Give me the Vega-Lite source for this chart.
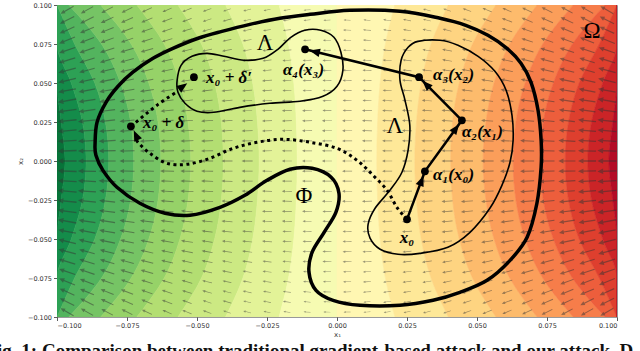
{
"$schema":"https://vega.github.io/schema/vega-lite/v6.json",
"width":560,"height":312,
"autosize":{"type":"none"},
"padding":{"left":57,"top":5,"right":23,"bottom":34},
"background":"white",
"config":{"view":{"stroke":"#999","strokeWidth":1},
"axis":{"labelFont":"DejaVu Sans","labelFontSize":6.5,"labelColor":"#333","tickColor":"#333","tickSize":3.5,"tickWidth":0.8,"domain":false,"grid":false,"titleFont":"DejaVu Sans","titleFontSize":7,"titleFontWeight":"normal","titleColor":"#333","labelPadding":2}},
"title":{"text":"Fig. 1: Comparison between traditional gradient-based attack and our attack. D","orient":"bottom","anchor":"start","font":"Liberation Serif","fontSize":19,"fontWeight":"bold","color":"#111","dx":-31,"offset":5},
"datasets":{
"bands":[
{"k":0,"y":[0.1,0.075,0.05,0.025,0,-0.025,-0.05,-0.075,-0.1],"x":[-0.1,-0.1,-0.1,-0.1,-0.1,-0.1,-0.1,-0.1,-0.1],"x2":[-0.1,-0.1,-0.1,-0.0985,-0.0971,-0.0985,-0.1,-0.1,-0.1]},
{"k":1,"y":[0.1,0.075,0.05,0.025,0,-0.025,-0.05,-0.075,-0.1],"x":[-0.1,-0.1,-0.1,-0.0985,-0.0971,-0.0985,-0.1,-0.1,-0.1],"x2":[-0.1,-0.1,-0.0949,-0.0909,-0.0896,-0.0909,-0.0949,-0.1,-0.1]},
{"k":2,"y":[0.1,0.075,0.05,0.025,0,-0.025,-0.05,-0.075,-0.1],"x":[-0.1,-0.1,-0.0949,-0.0909,-0.0896,-0.0909,-0.0949,-0.1,-0.1],"x2":[-0.1,-0.0937,-0.0865,-0.0827,-0.0815,-0.0827,-0.0865,-0.0937,-0.1]},
{"k":3,"y":[0.1,0.075,0.05,0.025,0,-0.025,-0.05,-0.075,-0.1],"x":[-0.1,-0.0937,-0.0865,-0.0827,-0.0815,-0.0827,-0.0865,-0.0937,-0.1],"x2":[-0.0958,-0.0841,-0.0773,-0.0737,-0.0726,-0.0737,-0.0773,-0.0841,-0.0958]},
{"k":4,"y":[0.1,0.075,0.05,0.025,0,-0.025,-0.05,-0.075,-0.1],"x":[-0.0958,-0.0841,-0.0773,-0.0737,-0.0726,-0.0737,-0.0773,-0.0841,-0.0958],"x2":[-0.0844,-0.0735,-0.0672,-0.0639,-0.0629,-0.0639,-0.0672,-0.0735,-0.0844]},
{"k":5,"y":[0.1,0.075,0.05,0.025,0,-0.025,-0.05,-0.075,-0.1],"x":[-0.0844,-0.0735,-0.0672,-0.0639,-0.0629,-0.0639,-0.0672,-0.0735,-0.0844],"x2":[-0.0715,-0.0617,-0.0561,-0.0532,-0.0522,-0.0532,-0.0561,-0.0617,-0.0715]},
{"k":6,"y":[0.1,0.075,0.05,0.025,0,-0.025,-0.05,-0.075,-0.1],"x":[-0.0715,-0.0617,-0.0561,-0.0532,-0.0522,-0.0532,-0.0561,-0.0617,-0.0715],"x2":[-0.0568,-0.0484,-0.0437,-0.0413,-0.0406,-0.0413,-0.0437,-0.0484,-0.0568]},
{"k":7,"y":[0.1,0.075,0.05,0.025,0,-0.025,-0.05,-0.075,-0.1],"x":[-0.0568,-0.0484,-0.0437,-0.0413,-0.0406,-0.0413,-0.0437,-0.0484,-0.0568],"x2":[-0.0398,-0.0336,-0.0301,-0.0284,-0.0278,-0.0284,-0.0301,-0.0336,-0.0398]},
{"k":8,"y":[0.1,0.075,0.05,0.025,0,-0.025,-0.05,-0.075,-0.1],"x":[-0.0398,-0.0336,-0.0301,-0.0284,-0.0278,-0.0284,-0.0301,-0.0336,-0.0398],"x2":[-0.0207,-0.0173,-0.0154,-0.0145,-0.0142,-0.0145,-0.0154,-0.0173,-0.0207]},
{"k":9,"y":[0.1,0.075,0.05,0.025,0,-0.025,-0.05,-0.075,-0.1],"x":[-0.0207,-0.0173,-0.0154,-0.0145,-0.0142,-0.0145,-0.0154,-0.0173,-0.0207],"x2":[0,0,0,0,0,0,0,0,0]},
{"k":10,"y":[0.1,0.075,0.05,0.025,0,-0.025,-0.05,-0.075,-0.1],"x":[0,0,0,0,0,0,0,0,0],"x2":[0.0207,0.0173,0.0154,0.0145,0.0142,0.0145,0.0154,0.0173,0.0207]},
{"k":11,"y":[0.1,0.075,0.05,0.025,0,-0.025,-0.05,-0.075,-0.1],"x":[0.0207,0.0173,0.0154,0.0145,0.0142,0.0145,0.0154,0.0173,0.0207],"x2":[0.0398,0.0336,0.0301,0.0284,0.0278,0.0284,0.0301,0.0336,0.0398]},
{"k":12,"y":[0.1,0.075,0.05,0.025,0,-0.025,-0.05,-0.075,-0.1],"x":[0.0398,0.0336,0.0301,0.0284,0.0278,0.0284,0.0301,0.0336,0.0398],"x2":[0.0568,0.0484,0.0437,0.0413,0.0406,0.0413,0.0437,0.0484,0.0568]},
{"k":13,"y":[0.1,0.075,0.05,0.025,0,-0.025,-0.05,-0.075,-0.1],"x":[0.0568,0.0484,0.0437,0.0413,0.0406,0.0413,0.0437,0.0484,0.0568],"x2":[0.0715,0.0617,0.0561,0.0532,0.0522,0.0532,0.0561,0.0617,0.0715]},
{"k":14,"y":[0.1,0.075,0.05,0.025,0,-0.025,-0.05,-0.075,-0.1],"x":[0.0715,0.0617,0.0561,0.0532,0.0522,0.0532,0.0561,0.0617,0.0715],"x2":[0.0844,0.0735,0.0672,0.0639,0.0629,0.0639,0.0672,0.0735,0.0844]},
{"k":15,"y":[0.1,0.075,0.05,0.025,0,-0.025,-0.05,-0.075,-0.1],"x":[0.0844,0.0735,0.0672,0.0639,0.0629,0.0639,0.0672,0.0735,0.0844],"x2":[0.0958,0.0841,0.0773,0.0737,0.0726,0.0737,0.0773,0.0841,0.0958]},
{"k":16,"y":[0.1,0.075,0.05,0.025,0,-0.025,-0.05,-0.075,-0.1],"x":[0.0958,0.0841,0.0773,0.0737,0.0726,0.0737,0.0773,0.0841,0.0958],"x2":[0.1,0.0937,0.0865,0.0827,0.0815,0.0827,0.0865,0.0937,0.1]},
{"k":17,"y":[0.1,0.075,0.05,0.025,0,-0.025,-0.05,-0.075,-0.1],"x":[0.1,0.0937,0.0865,0.0827,0.0815,0.0827,0.0865,0.0937,0.1],"x2":[0.1,0.1,0.0949,0.0909,0.0896,0.0909,0.0949,0.1,0.1]},
{"k":18,"y":[0.1,0.075,0.05,0.025,0,-0.025,-0.05,-0.075,-0.1],"x":[0.1,0.1,0.0949,0.0909,0.0896,0.0909,0.0949,0.1,0.1],"x2":[0.1,0.1,0.1,0.0985,0.0971,0.0985,0.1,0.1,0.1]},
{"k":19,"y":[0.1,0.075,0.05,0.025,0,-0.025,-0.05,-0.075,-0.1],"x":[0.1,0.1,0.1,0.0985,0.0971,0.0985,0.1,0.1,0.1],"x2":[0.1,0.1,0.1,0.1,0.1,0.1,0.1,0.1,0.1]}
],
"quiver":[
{"y":0.0968,"x":[-0.0964,-0.0893,-0.0821,-0.075,-0.0679,-0.0607,-0.0536,-0.0464,-0.0393,-0.0321,-0.025,-0.0179,-0.0107,-0.0036,0.0036,0.0107,0.0179,0.025,0.0321,0.0393,0.0464,0.0536,0.0607,0.0679,0.075,0.0821,0.0893,0.0964],"a":[-30,-29,-28,-27,-25,-24,-22,-20,-18,-15,-12,-9,-5,-2,2,5,9,12,15,18,20,22,24,25,27,28,29,30],"m":[15,14,13,12,11,10,10,9,8,8,7,7,7,7,7,7,7,7,8,8,9,10,10,11,12,13,14,15]},
{"y":0.0903,"x":[-0.0964,-0.0893,-0.0821,-0.075,-0.0679,-0.0607,-0.0536,-0.0464,-0.0393,-0.0321,-0.025,-0.0179,-0.0107,-0.0036,0.0036,0.0107,0.0179,0.025,0.0321,0.0393,0.0464,0.0536,0.0607,0.0679,0.075,0.0821,0.0893,0.0964],"a":[-27,-26,-25,-24,-23,-21,-20,-18,-16,-13,-11,-8,-5,-2,2,5,8,11,13,16,18,20,21,23,24,25,26,27],"m":[16,15,14,13,12,11,10,9,9,8,8,8,7,7,7,7,8,8,8,9,9,10,11,12,13,14,15,16]},
{"y":0.0839,"x":[-0.0964,-0.0893,-0.0821,-0.075,-0.0679,-0.0607,-0.0536,-0.0464,-0.0393,-0.0321,-0.025,-0.0179,-0.0107,-0.0036,0.0036,0.0107,0.0179,0.025,0.0321,0.0393,0.0464,0.0536,0.0607,0.0679,0.075,0.0821,0.0893,0.0964],"a":[-24,-23,-22,-21,-20,-19,-17,-16,-14,-12,-9,-7,-4,-1,1,4,7,9,12,14,16,17,19,20,21,22,23,24],"m":[16,15,14,13,12,11,10,10,9,9,8,8,8,8,8,8,8,8,9,9,10,10,11,12,13,14,15,16]},
{"y":0.0774,"x":[-0.0964,-0.0893,-0.0821,-0.075,-0.0679,-0.0607,-0.0536,-0.0464,-0.0393,-0.0321,-0.025,-0.0179,-0.0107,-0.0036,0.0036,0.0107,0.0179,0.025,0.0321,0.0393,0.0464,0.0536,0.0607,0.0679,0.075,0.0821,0.0893,0.0964],"a":[-22,-21,-20,-19,-18,-17,-16,-14,-12,-10,-8,-6,-4,-1,1,4,6,8,10,12,14,16,17,18,19,20,21,22],"m":[17,15,14,13,12,11,11,10,9,9,9,8,8,8,8,8,8,9,9,9,10,11,11,12,13,14,15,17]},
{"y":0.071,"x":[-0.0964,-0.0893,-0.0821,-0.075,-0.0679,-0.0607,-0.0536,-0.0464,-0.0393,-0.0321,-0.025,-0.0179,-0.0107,-0.0036,0.0036,0.0107,0.0179,0.025,0.0321,0.0393,0.0464,0.0536,0.0607,0.0679,0.075,0.0821,0.0893,0.0964],"a":[-19,-19,-18,-17,-16,-15,-14,-12,-11,-9,-7,-5,-3,-1,1,3,5,7,9,11,12,14,15,16,17,18,19,19],"m":[17,16,15,14,13,12,11,10,10,9,9,9,8,8,8,8,9,9,9,10,10,11,12,13,14,15,16,17]},
{"y":0.0645,"x":[-0.0964,-0.0893,-0.0821,-0.075,-0.0679,-0.0607,-0.0536,-0.0464,-0.0393,-0.0321,-0.025,-0.0179,-0.0107,-0.0036,0.0036,0.0107,0.0179,0.025,0.0321,0.0393,0.0464,0.0536,0.0607,0.0679,0.075,0.0821,0.0893,0.0964],"a":[-17,-17,-16,-15,-14,-13,-12,-11,-10,-8,-7,-5,-3,-1,1,3,5,7,8,10,11,12,13,14,15,16,17,17],"m":[17,16,15,14,13,12,11,11,10,10,9,9,9,9,9,9,9,9,10,10,11,11,12,13,14,15,16,17]},
{"y":0.0581,"x":[-0.0964,-0.0893,-0.0821,-0.075,-0.0679,-0.0607,-0.0536,-0.0464,-0.0393,-0.0321,-0.025,-0.0179,-0.0107,-0.0036,0.0036,0.0107,0.0179,0.025,0.0321,0.0393,0.0464,0.0536,0.0607,0.0679,0.075,0.0821,0.0893,0.0964],"a":[-15,-15,-14,-13,-13,-12,-11,-10,-8,-7,-6,-4,-3,-1,1,3,4,6,7,8,10,11,12,13,13,14,15,15],"m":[18,16,15,14,13,12,12,11,10,10,9,9,9,9,9,9,9,9,10,10,11,12,12,13,14,15,16,18]},
{"y":0.0516,"x":[-0.0964,-0.0893,-0.0821,-0.075,-0.0679,-0.0607,-0.0536,-0.0464,-0.0393,-0.0321,-0.025,-0.0179,-0.0107,-0.0036,0.0036,0.0107,0.0179,0.025,0.0321,0.0393,0.0464,0.0536,0.0607,0.0679,0.075,0.0821,0.0893,0.0964],"a":[-13,-13,-12,-12,-11,-10,-9,-8,-7,-6,-5,-4,-2,-1,1,2,4,5,6,7,8,9,10,11,12,12,13,13],"m":[18,17,16,14,13,13,12,11,10,10,10,9,9,9,9,9,9,10,10,10,11,12,13,13,14,16,17,18]},
{"y":0.0452,"x":[-0.0964,-0.0893,-0.0821,-0.075,-0.0679,-0.0607,-0.0536,-0.0464,-0.0393,-0.0321,-0.025,-0.0179,-0.0107,-0.0036,0.0036,0.0107,0.0179,0.025,0.0321,0.0393,0.0464,0.0536,0.0607,0.0679,0.075,0.0821,0.0893,0.0964],"a":[-11,-11,-10,-10,-9,-9,-8,-7,-6,-5,-4,-3,-2,-1,1,2,3,4,5,6,7,8,9,9,10,10,11,11],"m":[18,17,16,15,14,13,12,11,11,10,10,9,9,9,9,9,9,10,10,11,11,12,13,14,15,16,17,18]},
{"y":0.0387,"x":[-0.0964,-0.0893,-0.0821,-0.075,-0.0679,-0.0607,-0.0536,-0.0464,-0.0393,-0.0321,-0.025,-0.0179,-0.0107,-0.0036,0.0036,0.0107,0.0179,0.025,0.0321,0.0393,0.0464,0.0536,0.0607,0.0679,0.075,0.0821,0.0893,0.0964],"a":[-10,-9,-9,-8,-8,-7,-7,-6,-5,-4,-4,-3,-2,-1,1,2,3,4,4,5,6,7,7,8,8,9,9,10],"m":[19,17,16,15,14,13,12,11,11,10,10,10,9,9,9,9,10,10,10,11,11,12,13,14,15,16,17,19]},
{"y":0.0323,"x":[-0.0964,-0.0893,-0.0821,-0.075,-0.0679,-0.0607,-0.0536,-0.0464,-0.0393,-0.0321,-0.025,-0.0179,-0.0107,-0.0036,0.0036,0.0107,0.0179,0.025,0.0321,0.0393,0.0464,0.0536,0.0607,0.0679,0.075,0.0821,0.0893,0.0964],"a":[-8,-8,-7,-7,-6,-6,-6,-5,-4,-4,-3,-2,-1,0,0,1,2,3,4,4,5,6,6,6,7,7,8,8],"m":[19,17,16,15,14,13,12,12,11,10,10,10,10,9,9,10,10,10,10,11,12,12,13,14,15,16,17,19]},
{"y":0.0258,"x":[-0.0964,-0.0893,-0.0821,-0.075,-0.0679,-0.0607,-0.0536,-0.0464,-0.0393,-0.0321,-0.025,-0.0179,-0.0107,-0.0036,0.0036,0.0107,0.0179,0.025,0.0321,0.0393,0.0464,0.0536,0.0607,0.0679,0.075,0.0821,0.0893,0.0964],"a":[-6,-6,-6,-5,-5,-5,-4,-4,-3,-3,-2,-2,-1,0,0,1,2,2,3,3,4,4,5,5,5,6,6,6],"m":[19,18,16,15,14,13,12,12,11,11,10,10,10,10,10,10,10,10,11,11,12,12,13,14,15,16,18,19]},
{"y":0.0194,"x":[-0.0964,-0.0893,-0.0821,-0.075,-0.0679,-0.0607,-0.0536,-0.0464,-0.0393,-0.0321,-0.025,-0.0179,-0.0107,-0.0036,0.0036,0.0107,0.0179,0.025,0.0321,0.0393,0.0464,0.0536,0.0607,0.0679,0.075,0.0821,0.0893,0.0964],"a":[-5,-4,-4,-4,-4,-4,-3,-3,-3,-2,-2,-1,-1,0,0,1,1,2,2,3,3,3,4,4,4,4,4,5],"m":[19,18,16,15,14,13,13,12,11,11,10,10,10,10,10,10,10,10,11,11,12,13,13,14,15,16,18,19]},
{"y":0.0129,"x":[-0.0964,-0.0893,-0.0821,-0.075,-0.0679,-0.0607,-0.0536,-0.0464,-0.0393,-0.0321,-0.025,-0.0179,-0.0107,-0.0036,0.0036,0.0107,0.0179,0.025,0.0321,0.0393,0.0464,0.0536,0.0607,0.0679,0.075,0.0821,0.0893,0.0964],"a":[-3,-3,-3,-3,-3,-2,-2,-2,-2,-1,-1,-1,-1,0,0,1,1,1,1,2,2,2,2,3,3,3,3,3],"m":[19,18,17,15,14,13,13,12,11,11,10,10,10,10,10,10,10,10,11,11,12,13,13,14,15,17,18,19]},
{"y":0.0065,"x":[-0.0964,-0.0893,-0.0821,-0.075,-0.0679,-0.0607,-0.0536,-0.0464,-0.0393,-0.0321,-0.025,-0.0179,-0.0107,-0.0036,0.0036,0.0107,0.0179,0.025,0.0321,0.0393,0.0464,0.0536,0.0607,0.0679,0.075,0.0821,0.0893,0.0964],"a":[-2,-1,-1,-1,-1,-1,-1,-1,-1,-1,-1,0,0,0,0,0,0,1,1,1,1,1,1,1,1,1,1,2],"m":[19,18,17,15,14,14,13,12,11,11,10,10,10,10,10,10,10,10,11,11,12,13,14,14,15,17,18,19]},
{"y":0,"x":[-0.0964,-0.0893,-0.0821,-0.075,-0.0679,-0.0607,-0.0536,-0.0464,-0.0393,-0.0321,-0.025,-0.0179,-0.0107,-0.0036,0.0036,0.0107,0.0179,0.025,0.0321,0.0393,0.0464,0.0536,0.0607,0.0679,0.075,0.0821,0.0893,0.0964],"a":[0,0,0,0,0,0,0,0,0,0,0,0,0,0,0,0,0,0,0,0,0,0,0,0,0,0,0,0],"m":[19,18,17,15,14,14,13,12,11,11,10,10,10,10,10,10,10,10,11,11,12,13,14,14,15,17,18,19]},
{"y":-0.0065,"x":[-0.0964,-0.0893,-0.0821,-0.075,-0.0679,-0.0607,-0.0536,-0.0464,-0.0393,-0.0321,-0.025,-0.0179,-0.0107,-0.0036,0.0036,0.0107,0.0179,0.025,0.0321,0.0393,0.0464,0.0536,0.0607,0.0679,0.075,0.0821,0.0893,0.0964],"a":[2,1,1,1,1,1,1,1,1,1,1,0,0,0,0,0,0,-1,-1,-1,-1,-1,-1,-1,-1,-1,-1,-2],"m":[19,18,17,15,14,14,13,12,11,11,10,10,10,10,10,10,10,10,11,11,12,13,14,14,15,17,18,19]},
{"y":-0.0129,"x":[-0.0964,-0.0893,-0.0821,-0.075,-0.0679,-0.0607,-0.0536,-0.0464,-0.0393,-0.0321,-0.025,-0.0179,-0.0107,-0.0036,0.0036,0.0107,0.0179,0.025,0.0321,0.0393,0.0464,0.0536,0.0607,0.0679,0.075,0.0821,0.0893,0.0964],"a":[3,3,3,3,3,2,2,2,2,1,1,1,1,0,0,-1,-1,-1,-1,-2,-2,-2,-2,-3,-3,-3,-3,-3],"m":[19,18,17,15,14,13,13,12,11,11,10,10,10,10,10,10,10,10,11,11,12,13,13,14,15,17,18,19]},
{"y":-0.0194,"x":[-0.0964,-0.0893,-0.0821,-0.075,-0.0679,-0.0607,-0.0536,-0.0464,-0.0393,-0.0321,-0.025,-0.0179,-0.0107,-0.0036,0.0036,0.0107,0.0179,0.025,0.0321,0.0393,0.0464,0.0536,0.0607,0.0679,0.075,0.0821,0.0893,0.0964],"a":[5,4,4,4,4,4,3,3,3,2,2,1,1,0,0,-1,-1,-2,-2,-3,-3,-3,-4,-4,-4,-4,-4,-5],"m":[19,18,16,15,14,13,13,12,11,11,10,10,10,10,10,10,10,10,11,11,12,13,13,14,15,16,18,19]},
{"y":-0.0258,"x":[-0.0964,-0.0893,-0.0821,-0.075,-0.0679,-0.0607,-0.0536,-0.0464,-0.0393,-0.0321,-0.025,-0.0179,-0.0107,-0.0036,0.0036,0.0107,0.0179,0.025,0.0321,0.0393,0.0464,0.0536,0.0607,0.0679,0.075,0.0821,0.0893,0.0964],"a":[6,6,6,5,5,5,4,4,3,3,2,2,1,0,0,-1,-2,-2,-3,-3,-4,-4,-5,-5,-5,-6,-6,-6],"m":[19,18,16,15,14,13,12,12,11,11,10,10,10,10,10,10,10,10,11,11,12,12,13,14,15,16,18,19]},
{"y":-0.0323,"x":[-0.0964,-0.0893,-0.0821,-0.075,-0.0679,-0.0607,-0.0536,-0.0464,-0.0393,-0.0321,-0.025,-0.0179,-0.0107,-0.0036,0.0036,0.0107,0.0179,0.025,0.0321,0.0393,0.0464,0.0536,0.0607,0.0679,0.075,0.0821,0.0893,0.0964],"a":[8,8,7,7,6,6,6,5,4,4,3,2,1,0,0,-1,-2,-3,-4,-4,-5,-6,-6,-6,-7,-7,-8,-8],"m":[19,17,16,15,14,13,12,12,11,10,10,10,10,9,9,10,10,10,10,11,12,12,13,14,15,16,17,19]},
{"y":-0.0387,"x":[-0.0964,-0.0893,-0.0821,-0.075,-0.0679,-0.0607,-0.0536,-0.0464,-0.0393,-0.0321,-0.025,-0.0179,-0.0107,-0.0036,0.0036,0.0107,0.0179,0.025,0.0321,0.0393,0.0464,0.0536,0.0607,0.0679,0.075,0.0821,0.0893,0.0964],"a":[10,9,9,8,8,7,7,6,5,4,4,3,2,1,-1,-2,-3,-4,-4,-5,-6,-7,-7,-8,-8,-9,-9,-10],"m":[19,17,16,15,14,13,12,11,11,10,10,10,9,9,9,9,10,10,10,11,11,12,13,14,15,16,17,19]},
{"y":-0.0452,"x":[-0.0964,-0.0893,-0.0821,-0.075,-0.0679,-0.0607,-0.0536,-0.0464,-0.0393,-0.0321,-0.025,-0.0179,-0.0107,-0.0036,0.0036,0.0107,0.0179,0.025,0.0321,0.0393,0.0464,0.0536,0.0607,0.0679,0.075,0.0821,0.0893,0.0964],"a":[11,11,10,10,9,9,8,7,6,5,4,3,2,1,-1,-2,-3,-4,-5,-6,-7,-8,-9,-9,-10,-10,-11,-11],"m":[18,17,16,15,14,13,12,11,11,10,10,9,9,9,9,9,9,10,10,11,11,12,13,14,15,16,17,18]},
{"y":-0.0516,"x":[-0.0964,-0.0893,-0.0821,-0.075,-0.0679,-0.0607,-0.0536,-0.0464,-0.0393,-0.0321,-0.025,-0.0179,-0.0107,-0.0036,0.0036,0.0107,0.0179,0.025,0.0321,0.0393,0.0464,0.0536,0.0607,0.0679,0.075,0.0821,0.0893,0.0964],"a":[13,13,12,12,11,10,9,8,7,6,5,4,2,1,-1,-2,-4,-5,-6,-7,-8,-9,-10,-11,-12,-12,-13,-13],"m":[18,17,16,14,13,13,12,11,10,10,10,9,9,9,9,9,9,10,10,10,11,12,13,13,14,16,17,18]},
{"y":-0.0581,"x":[-0.0964,-0.0893,-0.0821,-0.075,-0.0679,-0.0607,-0.0536,-0.0464,-0.0393,-0.0321,-0.025,-0.0179,-0.0107,-0.0036,0.0036,0.0107,0.0179,0.025,0.0321,0.0393,0.0464,0.0536,0.0607,0.0679,0.075,0.0821,0.0893,0.0964],"a":[15,15,14,13,13,12,11,10,8,7,6,4,3,1,-1,-3,-4,-6,-7,-8,-10,-11,-12,-13,-13,-14,-15,-15],"m":[18,16,15,14,13,12,12,11,10,10,9,9,9,9,9,9,9,9,10,10,11,12,12,13,14,15,16,18]},
{"y":-0.0645,"x":[-0.0964,-0.0893,-0.0821,-0.075,-0.0679,-0.0607,-0.0536,-0.0464,-0.0393,-0.0321,-0.025,-0.0179,-0.0107,-0.0036,0.0036,0.0107,0.0179,0.025,0.0321,0.0393,0.0464,0.0536,0.0607,0.0679,0.075,0.0821,0.0893,0.0964],"a":[17,17,16,15,14,13,12,11,10,8,7,5,3,1,-1,-3,-5,-7,-8,-10,-11,-12,-13,-14,-15,-16,-17,-17],"m":[17,16,15,14,13,12,11,11,10,10,9,9,9,9,9,9,9,9,10,10,11,11,12,13,14,15,16,17]},
{"y":-0.071,"x":[-0.0964,-0.0893,-0.0821,-0.075,-0.0679,-0.0607,-0.0536,-0.0464,-0.0393,-0.0321,-0.025,-0.0179,-0.0107,-0.0036,0.0036,0.0107,0.0179,0.025,0.0321,0.0393,0.0464,0.0536,0.0607,0.0679,0.075,0.0821,0.0893,0.0964],"a":[19,19,18,17,16,15,14,12,11,9,7,5,3,1,-1,-3,-5,-7,-9,-11,-12,-14,-15,-16,-17,-18,-19,-19],"m":[17,16,15,14,13,12,11,10,10,9,9,9,8,8,8,8,9,9,9,10,10,11,12,13,14,15,16,17]},
{"y":-0.0774,"x":[-0.0964,-0.0893,-0.0821,-0.075,-0.0679,-0.0607,-0.0536,-0.0464,-0.0393,-0.0321,-0.025,-0.0179,-0.0107,-0.0036,0.0036,0.0107,0.0179,0.025,0.0321,0.0393,0.0464,0.0536,0.0607,0.0679,0.075,0.0821,0.0893,0.0964],"a":[22,21,20,19,18,17,16,14,12,10,8,6,4,1,-1,-4,-6,-8,-10,-12,-14,-16,-17,-18,-19,-20,-21,-22],"m":[17,15,14,13,12,11,11,10,9,9,9,8,8,8,8,8,8,9,9,9,10,11,11,12,13,14,15,17]},
{"y":-0.0839,"x":[-0.0964,-0.0893,-0.0821,-0.075,-0.0679,-0.0607,-0.0536,-0.0464,-0.0393,-0.0321,-0.025,-0.0179,-0.0107,-0.0036,0.0036,0.0107,0.0179,0.025,0.0321,0.0393,0.0464,0.0536,0.0607,0.0679,0.075,0.0821,0.0893,0.0964],"a":[24,23,22,21,20,19,17,16,14,12,9,7,4,1,-1,-4,-7,-9,-12,-14,-16,-17,-19,-20,-21,-22,-23,-24],"m":[16,15,14,13,12,11,10,10,9,9,8,8,8,8,8,8,8,8,9,9,10,10,11,12,13,14,15,16]},
{"y":-0.0903,"x":[-0.0964,-0.0893,-0.0821,-0.075,-0.0679,-0.0607,-0.0536,-0.0464,-0.0393,-0.0321,-0.025,-0.0179,-0.0107,-0.0036,0.0036,0.0107,0.0179,0.025,0.0321,0.0393,0.0464,0.0536,0.0607,0.0679,0.075,0.0821,0.0893,0.0964],"a":[27,26,25,24,23,21,20,18,16,13,11,8,5,2,-2,-5,-8,-11,-13,-16,-18,-20,-21,-23,-24,-25,-26,-27],"m":[16,15,14,13,12,11,10,9,9,8,8,8,7,7,7,7,8,8,8,9,9,10,11,12,13,14,15,16]},
{"y":-0.0968,"x":[-0.0964,-0.0893,-0.0821,-0.075,-0.0679,-0.0607,-0.0536,-0.0464,-0.0393,-0.0321,-0.025,-0.0179,-0.0107,-0.0036,0.0036,0.0107,0.0179,0.025,0.0321,0.0393,0.0464,0.0536,0.0607,0.0679,0.075,0.0821,0.0893,0.0964],"a":[30,29,28,27,25,24,22,20,18,15,12,9,5,2,-2,-5,-9,-12,-15,-18,-20,-22,-24,-25,-27,-28,-29,-30],"m":[15,14,13,12,11,10,10,9,8,8,7,7,7,7,7,7,7,7,8,8,9,10,10,11,12,13,14,15]}
],
"paths":[
{"id":"phi","x":[-0.0864,-0.0857,-0.0825,-0.0782,-0.0729,-0.0657,-0.0586,-0.0496,-0.0411,-0.0311,-0.0204,-0.0096,0.0046,0.0225,0.0368,0.046,0.0539,0.0607,0.0657,0.0693,0.0718,0.0729,0.0729,0.0714,0.0679,0.0618,0.0536,0.0439,0.0343,0.0225,0.0082,-0.0014,-0.0075,-0.01,-0.0089,-0.0046,-0.0004,0.0007,-0.0021,-0.0089,-0.0168,-0.025,-0.0329,-0.0418,-0.0525,-0.0614,-0.0704,-0.0786,-0.0836,-0.0861],"y":[0.0113,0.0248,0.0376,0.0479,0.0569,0.0658,0.0722,0.0787,0.0831,0.0876,0.0915,0.094,0.0966,0.096,0.0915,0.087,0.0806,0.0722,0.0626,0.0504,0.0325,0.0133,-0.004,-0.0271,-0.0489,-0.0637,-0.0765,-0.0842,-0.0893,-0.0925,-0.0925,-0.0893,-0.0829,-0.0713,-0.0585,-0.0457,-0.0329,-0.0207,-0.0104,-0.0047,-0.0053,-0.0124,-0.022,-0.0297,-0.0348,-0.0335,-0.0271,-0.0168,-0.006,0.0037],"i":[0,1,2,3,4,5,6,7,8,9,10,11,12,13,14,15,16,17,18,19,20,21,22,23,24,25,26,27,28,29,30,31,32,33,34,35,36,37,38,39,40,41,42,43,44,45,46,47,48,49]},
{"id":"lam1","x":[-0.0571,-0.0557,-0.0518,-0.0464,-0.0404,-0.0332,-0.0264,-0.0211,-0.0165,-0.0115,-0.0058,-0.0011,0.0014,0.0021,0.0,-0.005,-0.0132,-0.024,-0.0347,-0.044,-0.05,-0.0543,-0.0568],"y":[0.0517,0.0613,0.0671,0.069,0.0671,0.0646,0.0658,0.0716,0.0793,0.0838,0.0838,0.0793,0.0697,0.0581,0.0479,0.0415,0.0383,0.037,0.0344,0.0312,0.0319,0.037,0.044],"i":[0,1,2,3,4,5,6,7,8,9,10,11,12,13,14,15,16,17,18,19,20,21,22]},
{"id":"lam2","x":[0.0289,0.0368,0.0432,0.0504,0.0564,0.0604,0.0625,0.0629,0.0618,0.0589,0.0546,0.0475,0.0396,0.0296,0.0218,0.0154,0.0118,0.0111,0.0136,0.0189,0.0232,0.0254,0.026,0.0243,0.0225,0.0229,0.0254],"y":[0.0767,0.0774,0.0742,0.0671,0.0575,0.0453,0.0293,0.0133,-0.0008,-0.0156,-0.0303,-0.0457,-0.0553,-0.0592,-0.0598,-0.0566,-0.0495,-0.0406,-0.0303,-0.0188,-0.0072,0.0069,0.0229,0.0389,0.0517,0.0646,0.0729],"i":[0,1,2,3,4,5,6,7,8,9,10,11,12,13,14,15,16,17,18,19,20,21,22,23,24,25,26]},
{"id":"dot1","x":[0.025,0.0214,0.0179,0.0129,0.0071,0.0,-0.0096,-0.0193,-0.0286,-0.0371,-0.0454,-0.0536,-0.0607,-0.0668,-0.0711,-0.0718],"y":[-0.0374,-0.0297,-0.0188,-0.0092,0.0005,0.0081,0.012,0.0139,0.012,0.0081,0.0017,-0.0021,-0.0015,0.0049,0.012,0.0152],"i":[0,1,2,3,4,5,6,7,8,9,10,11,12,13,14,15]},
{"id":"dot2","x":[-0.0736,-0.0639,-0.0568],"y":[0.0222,0.0363,0.0447],"i":[0,1,2]},
{"id":"alpha","x":[0.025,0.0314,0.0446,0.0293,-0.0114],"y":[-0.0374,-0.0066,0.0261,0.0537,0.0716],"i":[0,1,2,3,4]}
],
"heads":[
{"x":0.0302,"y":-0.0126,"a":-69},
{"x":0.0425,"y":0.0209,"a":-54},
{"x":0.0318,"y":0.0491,"a":-135},
{"x":-0.008,"y":0.0701,"a":-166},
{"x":-0.0718,"y":0.0165,"a":-114},
{"x":-0.055,"y":0.0479,"a":-36}
],
"dots":[
{"x":0.025,"y":-0.0374},{"x":0.0314,"y":-0.0066},{"x":0.0446,"y":0.0261},{"x":0.0293,"y":0.0537},{"x":-0.0114,"y":0.0716},{"x":-0.0736,"y":0.0222},{"x":-0.0511,"y":0.0537}
],
"labels":[
{"t":"α₁(x₀)","x":0.0343,"y":-0.0092},
{"t":"α₂(x₁)","x":0.0446,"y":0.0184},
{"t":"α₃(x₂)","x":0.0343,"y":0.0549},
{"t":"α₄(x₃)","x":-0.0193,"y":0.0581},
{"t":"x₀ + δ","x":-0.0693,"y":0.0242},
{"t":"x₀ + δ′","x":-0.0468,"y":0.053}
],
"center":[{"t":"x₀","x":0.025,"y":-0.0496}],
"greek":[
{"t":"Λ","x":-0.0257,"y":0.0754},
{"t":"Λ","x":0.0207,"y":0.0222},
{"t":"Φ","x":-0.0118,"y":-0.0226},
{"t":"Ω","x":0.0911,"y":0.0831}
]
},
"encoding":{
"x":{"field":"x","type":"quantitative","scale":{"domain":[-0.1,0.1],"nice":false,"zero":false},"axis":{"values":[-0.1,-0.075,-0.05,-0.025,0,0.025,0.05,0.075,0.1],"format":".3f","title":"x₁","titlePadding":1}},
"y":{"field":"y","type":"quantitative","scale":{"domain":[-0.1,0.1],"nice":false,"zero":false},"axis":{"values":[-0.1,-0.075,-0.05,-0.025,0,0.025,0.05,0.075,0.1],"format":".3f","title":"x₂","titlePadding":4}}
},
"layer":[
{"data":{"name":"bands"},"transform":[{"flatten":["y","x","x2"]}],
"mark":{"type":"area","orient":"horizontal","interpolate":"monotone","strokeWidth":0.6,"clip":true},
"encoding":{"x2":{"field":"x2"},
"color":{"field":"k","type":"ordinal","scale":{"domain":[0,1,2,3,4,5,6,7,8,9,10,11,12,13,14,15,16,17,18,19],"range":["#077439","#148c4a","#2da155","#53b45e","#76c465","#96d268","#b3de72","#cce983","#e3f398","#f6fbb2","#fff7b2","#fee898","#fed481","#fdbb6c","#fb9e5a","#f67d4a","#ed5e3c","#de3f2e","#cb2427","#b20c26"]},"legend":null},
"stroke":{"field":"k","type":"ordinal","scale":{"domain":[0,1,2,3,4,5,6,7,8,9,10,11,12,13,14,15,16,17,18,19],"range":["#077439","#148c4a","#2da155","#53b45e","#76c465","#96d268","#b3de72","#cce983","#e3f398","#f6fbb2","#fff7b2","#fee898","#fed481","#fdbb6c","#fb9e5a","#f67d4a","#ed5e3c","#de3f2e","#cb2427","#b20c26"]},"legend":null}}},
{"data":{"name":"quiver"},"transform":[{"flatten":["x","a","m"]}],
"mark":{"type":"point","shape":"M1,-0.07L-0.4,-0.07L-0.4,-0.28L-1,0L-0.4,0.28L-0.4,0.07L1,0.07Z","filled":true,"color":"#333333","opacity":0.5,"strokeWidth":0,"clip":true},
"encoding":{"angle":{"field":"a","type":"quantitative","scale":null},"size":{"field":"m","type":"quantitative","scale":{"type":"pow","exponent":2,"domain":[0,20],"range":[0,400]},"legend":null}}},
{"data":{"name":"paths"},"transform":[{"flatten":["x","y","i"]},{"filter":{"field":"id","equal":"phi"}}],
"mark":{"type":"line","interpolate":"cardinal-closed","color":"black","strokeWidth":3.5},
"encoding":{"order":{"field":"i","type":"quantitative"}}},
{"data":{"name":"paths"},"transform":[{"flatten":["x","y","i"]},{"filter":{"field":"id","oneOf":["lam1","lam2"]}}],
"mark":{"type":"line","interpolate":"cardinal-closed","color":"black","strokeWidth":1.6},
"encoding":{"detail":{"field":"id"},"order":{"field":"i","type":"quantitative"}}},
{"data":{"name":"paths"},"transform":[{"flatten":["x","y","i"]},{"filter":{"field":"id","oneOf":["dot1","dot2"]}}],
"mark":{"type":"line","interpolate":"cardinal","color":"black","strokeWidth":3,"strokeDash":[3,3.5]},
"encoding":{"detail":{"field":"id"},"order":{"field":"i","type":"quantitative"}}},
{"data":{"name":"paths"},"transform":[{"flatten":["x","y","i"]},{"filter":{"field":"id","equal":"alpha"}}],
"mark":{"type":"line","color":"black","strokeWidth":2.5},
"encoding":{"order":{"field":"i","type":"quantitative"}}},
{"data":{"name":"heads"},
"mark":{"type":"point","shape":"M1,0L-1,-0.8L-1,0.8Z","filled":true,"color":"black","opacity":1,"size":110,"strokeWidth":0},
"encoding":{"angle":{"field":"a","type":"quantitative","scale":null}}},
{"data":{"name":"dots"},
"mark":{"type":"point","shape":"circle","filled":true,"color":"black","opacity":1,"size":60}},
{"data":{"name":"labels"},
"mark":{"type":"text","font":"Liberation Serif","fontStyle":"italic","fontWeight":"bold","fontSize":17,"align":"left","baseline":"middle","color":"black"},
"encoding":{"text":{"field":"t"}}},
{"data":{"name":"center"},
"mark":{"type":"text","font":"Liberation Serif","fontStyle":"italic","fontWeight":"bold","fontSize":17,"align":"center","baseline":"middle","color":"black"},
"encoding":{"text":{"field":"t"}}},
{"data":{"name":"greek"},
"mark":{"type":"text","font":"Liberation Serif","fontSize":23,"align":"center","baseline":"middle","color":"black"},
"encoding":{"text":{"field":"t"}}}
]
}
